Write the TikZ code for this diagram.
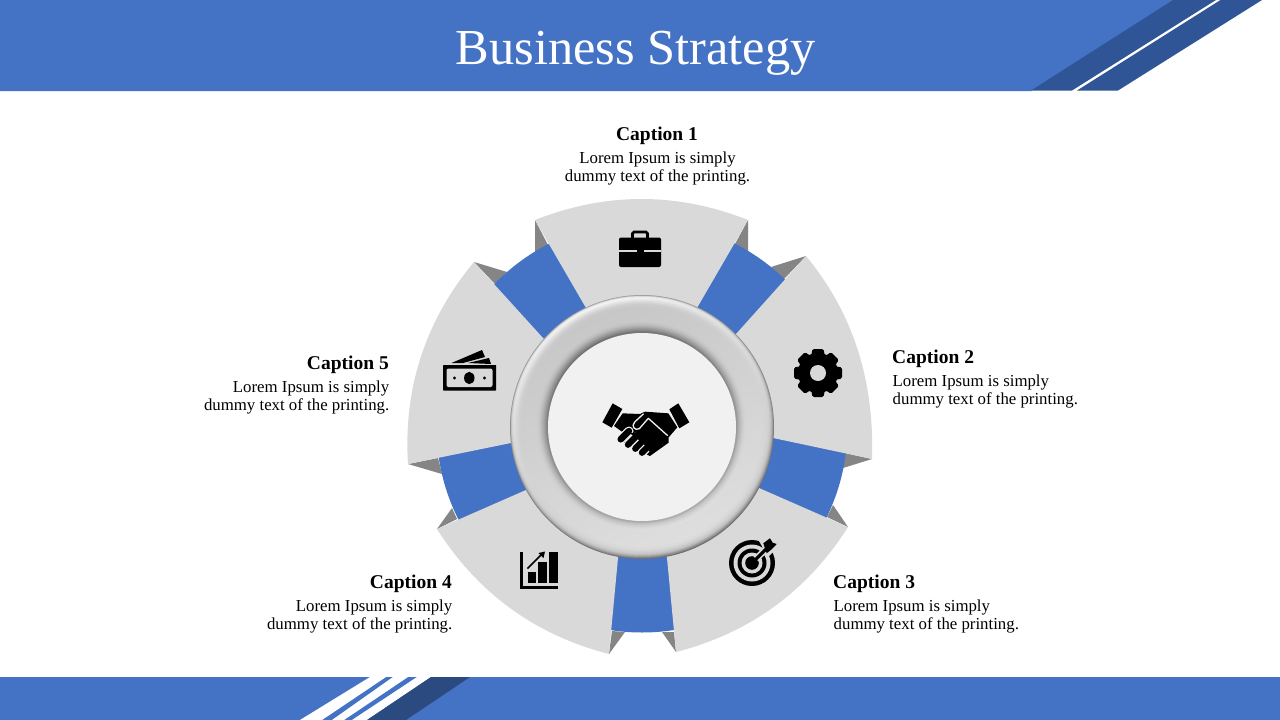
\documentclass[tikz,border=0pt]{standalone}
\usepackage{fontspec}
\setmainfont{Liberation Serif}
\definecolor{hdrblue}{HTML}{4472C4}
\definecolor{bandblue}{HTML}{2F5597}
\definecolor{footdark}{HTML}{2B4A80}
\definecolor{sectgray}{HTML}{D9D9D9}
\definecolor{tridark}{HTML}{858585}
\definecolor{discgray}{HTML}{F1F1F1}
\tikzset{
 sect/.style={fill=sectgray,draw=none},
 tri/.style={fill=tridark,draw=none},
 ink/.style={fill=black,draw=none},
 capt/.style={font=\fontsize{19.5}{22}\selectfont\bfseries,inner sep=0pt},
 body/.style={font=\fontsize{16.8}{18}\selectfont,inner sep=0pt},
}
\begin{document}
\begin{tikzpicture}[x=1pt,y=-1pt]
\useasboundingbox (0,0) rectangle (1280,720);
\fill[white] (0,0) rectangle (1280,720);
% header
\fill[hdrblue] (0,0) -- (1175,0) -- (1031,91) -- (0,91) -- cycle;
\fill[bandblue] (1173,0) -- (1216,0) -- (1072,90.5) -- (1031,90.5) -- cycle;
\fill[bandblue] (1220.5,0) -- (1262,0) -- (1118,90.5) -- (1077,90.5) -- cycle;
\node[text=white,inner sep=0pt,font=\fontsize{50.4}{54}\selectfont] (title) at (635.5,53) {Business Strategy};
% footer
\fill[hdrblue] (0,677) rectangle (1280,720);
\fill[white] (370,677) -- (386,677) -- (322,720) -- (300,720) -- cycle;
\fill[white] (393,677) -- (408,677) -- (344,720) -- (332,720) -- cycle;
\fill[white] (417,677) -- (431,677) -- (367,720) -- (352,720) -- cycle;
\fill[footdark] (431,677) -- (470,677) -- (406,720) -- (367,720) -- cycle;
% dark folds
\fill[tri] (535,220) -- (535,252) -- (548,245) -- cycle;
\fill[tri] (748,220) -- (735,244) -- (748,252) -- cycle;
\fill[tri] (806,256) -- (771,267) -- (784,279) -- cycle;
\fill[tri] (872,459) -- (845,453) -- (843,468) -- cycle;
\fill[tri] (848,527) -- (827,517) -- (833,505) -- cycle;
\fill[tri] (676,652) -- (662,632) -- (674,632) -- cycle;
\fill[tri] (609,654) -- (612,631) -- (625,632) -- cycle;
\fill[tri] (437,529) -- (457,519) -- (452,508) -- cycle;
\fill[tri] (408,464) -- (438,458) -- (442,474) -- cycle;
\fill[tri] (474,262) -- (507,272) -- (495,284) -- cycle;
% blue disc
\fill[hdrblue] (642,427) circle (205.5);
% grey sectors
\fill[sect] (535,220) .. controls (606,192) and (677,192) .. (748,220) -- (697,308) -- (642,427) -- (586,308) -- cycle;
\fill[sect] (806,256) .. controls (854.7,315) and (874.3,382.7) .. (872,459) -- (773,438) -- (642,427) -- (736,334) -- cycle;
\fill[sect] (848,527) .. controls (807.1,591.3) and (749.8,633) .. (676,652) -- (667,558) -- (642,427) -- (759,488) -- cycle;
\fill[sect] (609,654) .. controls (535.2,635) and (477.9,593.3) .. (437,529) -- (526,490) -- (642,427) -- (618,558) -- cycle;
\fill[sect] (408,464) .. controls (403.3,388) and (425.3,320.7) .. (474,262) -- (543,338) -- (642,427) -- (511,443) -- cycle;
% bevelled ring
\foreach \r/\t/\b in {132/60/42,131.5/72/46,131/84/50,130.5/91/54,130/94/58,129.5/95/62,129/95/66,128.5/94/70,128/93/73,127.5/92/75,127/90/77,126.5/88/79,126/87/80,125/84/82,124/82/84,123/80/85,122/79/86,120/78/87,105/77/87,104/76/87,103/74/87,102/71/86,101/68/85,100/64/83,99/60/81,98/56/79,97/52/76,96/48/72,95.5/45/68}{
 \shade[top color=white!\t!black,bottom color=white!\b!black,shading angle=22] (642,427) circle (\r);
}
\fill[discgray] (642,427) circle (94);
% briefcase
\draw[black,line width=2.6,rounded corners=1.5] (632.5,239) -- (632.5,232) -- (647.5,232) -- (647.5,239);
\fill[ink,rounded corners=2] (619,237.5) rectangle (661,267);
\fill[sectgray] (619,250) rectangle (661,251.6);
\fill[ink] (636.5,248.5) rectangle (643.5,253);
% gear
\fill[ink] (818,373) circle (20);
\foreach \a in {0,45,...,315}{
 \fill[ink,rounded corners=1.5,rotate around={\a:(818,373)}] (809.5,364) -- (812.5,349) -- (823.5,349) -- (826.5,364) -- cycle;
}
\fill[sectgray] (818,373) circle (8);
% target
\fill[ink] (752,563) circle (23);
\fill[sectgray] (752,563) circle (18.5);
\fill[ink] (752,563) circle (14.5);
\fill[sectgray] (752,563) circle (10.5);
\fill[ink] (752,563) circle (6.8);
\fill[sectgray] (759,541) -- (771,533) -- (780,545) -- (768,557) -- cycle;
\draw[sectgray,line width=6.5] (756,559) -- (768,547);
\draw[black,line width=3.2] (752,563) -- (768,547);
\fill[ink] (763.3,543.3) -- (770,538.3) -- (772.7,542.7) -- (776.7,544) -- (771.7,549.3) -- (766.7,553.3) -- cycle;
% chart
\fill[ink] (520.3,552) rectangle (523,589);
\fill[ink] (520.3,586) rectangle (558,589);
\fill[ink] (527.7,572) rectangle (535.7,583);
\fill[ink] (538.3,562) rectangle (546.7,583);
\fill[ink] (549.3,552) rectangle (558,583);
\draw[sectgray,line width=3.4] (527,569) -- (541,555);
\draw[black,line width=1.6] (527.5,568.5) -- (542,554);
\fill[ink] (545,551.5) -- (543.5,558) -- (538.5,553) -- cycle;
% money
\fill[ink,rounded corners=0.5] (443,365) rectangle (496,390.5);
\fill[sectgray,rounded corners=2] (446.5,368.5) rectangle (492.5,387);
\fill[ink] (469.3,378) ellipse (5.2 and 6.2);
\fill[ink] (454.5,378) circle (1.7);
\fill[ink] (484.5,378) circle (1.7);
\fill[ink] (451.5,363) -- (482,350) -- (485,357) -- (463,363) -- cycle;
\fill[ink] (468,363) -- (489,358) -- (491,364) -- cycle;
% handshake
\begin{scope}[shift={(590,390)},x=0.3333pt,y=-0.3333pt]
 \fill[ink] (68,40) -- (97,57) -- (65,113) -- (37,97) -- cycle;
 \fill[ink] (265,40) -- (298,97) -- (268,115) -- (238,58) -- cycle;
 \fill[ink] (98,70) -- (150,72) -- (165,65) -- (235,70) -- (262,112) -- (236,142) -- (236,158) -- (180,198) -- (120,170) -- (92,150) -- (100,128) -- (72,108) -- cycle;
 \foreach \p/\q in {92/148,114/164,136/176,156/188}{
  \draw[discgray,line width=9,line cap=round] (\p,\q) -- (\p+25,\q-25);
  \draw[black,line width=6.4,line cap=round] (\p,\q) -- (\p+25,\q-25);
 }
 \fill[ink] (120,130) -- (170,120) -- (230,140) -- (232,158) -- (182,190) -- (160,160) -- cycle;
 \draw[discgray,line width=1.3,line cap=round,line join=round] (232,136) -- (175,85) -- (148,116) .. controls (135,124) and (122,108) .. (134,96) -- (160,72);
\end{scope}
% captions
\node[capt,anchor=center] (c1) at (657,136) {Caption 1};
\node[body,align=center,anchor=center] (b1) at (657.5,168) {Lorem Ipsum is simply\\dummy text of the printing.};
\node[capt,anchor=west] (c2) at (892,359) {Caption 2};
\node[body,align=left,anchor=west] (b2) at (892.5,391) {Lorem Ipsum is simply\\dummy text of the printing.};
\node[capt,anchor=west] (c3) at (833,584) {Caption 3};
\node[body,align=left,anchor=west] (b3) at (833.5,616) {Lorem Ipsum is simply\\dummy text of the printing.};
\node[capt,anchor=east] (c4) at (452,584) {Caption 4};
\node[body,align=right,anchor=east] (b4) at (452.5,616) {Lorem Ipsum is simply\\dummy text of the printing.};
\node[capt,anchor=east] (c5) at (389,365) {Caption 5};
\node[body,align=right,anchor=east] (b5) at (389.5,397) {Lorem Ipsum is simply\\dummy text of the printing.};
\end{tikzpicture}
\end{document}
